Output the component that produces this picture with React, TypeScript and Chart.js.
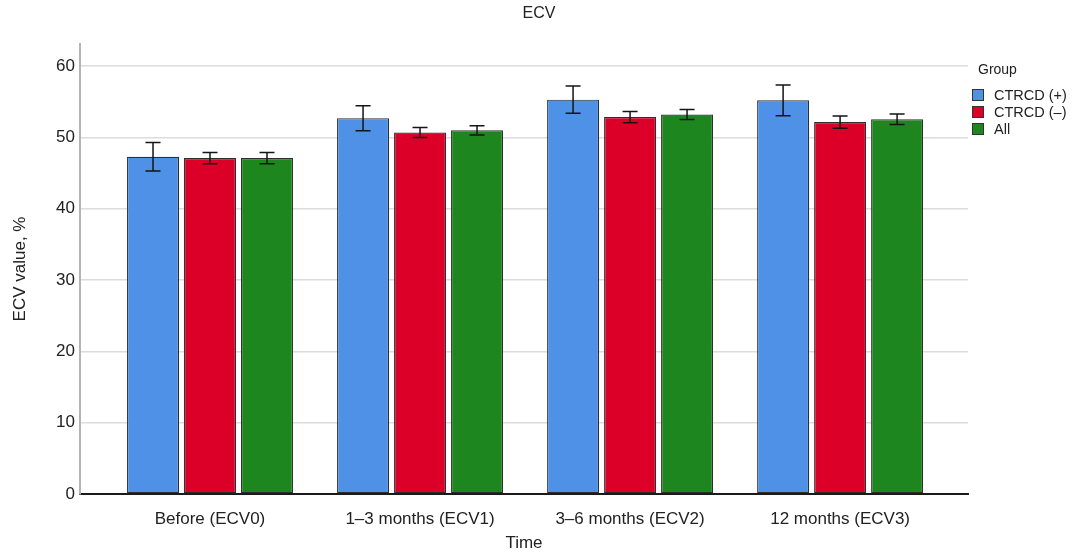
import { useEffect, useRef } from 'react';
import { Chart, registerables } from 'chart.js';

Chart.register(...registerables);

// Time points on the x axis
const CATEGORIES = ['Before (ECV0)', '1–3 months (ECV1)', '3–6 months (ECV2)', '12 months (ECV3)'];

// Group names
const GROUP_LABELS = ['CTRCD (+)', 'CTRCD (–)', 'All'];

// Mean ECV (%) per group at each time point
const CTRCD_POS = [47.3, 52.7, 55.3, 55.2];
const CTRCD_NEG = [47.1, 50.7, 52.85, 52.15];
const ALL = [47.1, 51.0, 53.2, 52.55];

// Half-width of the error bars (%)
const CTRCD_POS_ERR = [2.0, 1.75, 1.9, 2.15];
const CTRCD_NEG_ERR = [0.8, 0.7, 0.8, 0.85];
const ALL_ERR = [0.8, 0.65, 0.7, 0.75];

// Y axis tick values
const Y_TICKS = [0, 10, 20, 30, 40, 50, 60];

const CHART_TITLE = 'ECV';
const LEGEND_TITLE = 'Group';

const COLORS = ['#4e91e6', '#dc0028', '#1e861e'];
const FONT = "'Liberation Sans', Arial, Helvetica, sans-serif";
const TEXT = '#222';

const errorBarsPlugin = {
  id: 'errorBars',
  afterDatasetsDraw(chart: any) {
    const { ctx } = chart;
    const yScale = chart.scales.y;
    ctx.save();
    ctx.strokeStyle = '#151515';
    ctx.lineWidth = 1.5;
    chart.data.datasets.forEach((ds: any, di: number) => {
      const meta = chart.getDatasetMeta(di);
      meta.data.forEach((bar: any, i: number) => {
        const v = ds.data[i].y;
        const e = ds.errors[i];
        const yTop = yScale.getPixelForValue(v + e);
        const yBot = yScale.getPixelForValue(v - e);
        const x = bar.x;
        const cap = 7.5;
        ctx.beginPath();
        ctx.moveTo(x, yTop);
        ctx.lineTo(x, yBot);
        ctx.moveTo(x - cap, yTop);
        ctx.lineTo(x + cap, yTop);
        ctx.moveTo(x - cap, yBot);
        ctx.lineTo(x + cap, yBot);
        ctx.stroke();
      });
    });
    ctx.restore();
  },
};

// Chart title centred on the whole canvas, plus the group legend in the right margin
const headerAndLegendPlugin = {
  id: 'headerAndLegend',
  afterDraw(chart: any) {
    const { ctx, chartArea, width } = chart;
    ctx.save();
    ctx.fillStyle = TEXT;
    ctx.textBaseline = 'middle';
    ctx.textAlign = 'center';
    ctx.font = `16px ${FONT}`;
    ctx.fillText(CHART_TITLE, width / 2 + 2, 14);

    const x0 = chartArea.right + 4;
    ctx.textAlign = 'left';
    ctx.font = `14px ${FONT}`;
    ctx.fillText(LEGEND_TITLE, x0 + 6, 70);
    ctx.font = `14.5px ${FONT}`;
    chart.data.datasets.forEach((ds: any, i: number) => {
      const y = 89 + i * 17;
      ctx.fillStyle = ds.backgroundColor;
      ctx.fillRect(x0, y, 12, 12);
      ctx.strokeStyle = '#333';
      ctx.lineWidth = 1;
      ctx.strokeRect(x0 + 0.5, y + 0.5, 11, 11);
      ctx.fillStyle = TEXT;
      ctx.fillText(ds.label, x0 + 22, y + 6.5);
    });
    ctx.restore();
  },
};

export default function App() {
  const canvasRef = useRef<HTMLCanvasElement | null>(null);

  useEffect(() => {
    if (!canvasRef.current) return;
    Chart.defaults.font.family = FONT;
    const series = [CTRCD_POS, CTRCD_NEG, ALL];
    const errs = [CTRCD_POS_ERR, CTRCD_NEG_ERR, ALL_ERR];
    const chart = new Chart(canvasRef.current, {
      type: 'bar',
      data: {
        datasets: series.map((vals, si) => ({
          label: GROUP_LABELS[si],
          data: vals.map((v, i) => ({ x: i, y: v })),
          errors: errs[si],
          backgroundColor: COLORS[si],
          borderColor: '#2e2e2e',
          borderWidth: 1.2,
          borderSkipped: false,
          categoryPercentage: 0.814,
          barPercentage: 0.912,
        })) as any,
      },
      options: {
        animation: false,
        responsive: false,
        layout: { padding: { left: 0, right: 106, top: 44, bottom: 0 } },
        plugins: {
          legend: { display: false },
          tooltip: { enabled: false },
          title: { display: false },
        },
        scales: {
          x: {
            type: 'linear',
            min: -0.619,
            max: 3.609,
            offset: false,
            grid: { display: false, drawTicks: false },
            border: { display: true, color: '#1a1a1a', width: 2 },
            afterBuildTicks: (s: any) => {
              s.ticks = CATEGORIES.map((_, i) => ({ value: i }));
            },
            afterFit: (s: any) => {
              s.height = 65;
            },
            ticks: {
              autoSkip: false,
              maxRotation: 0,
              padding: 15,
              color: TEXT,
              font: { size: 17 },
              callback: (v: any) => CATEGORIES[v] ?? '',
            },
            title: {
              display: true,
              text: 'Time',
              color: TEXT,
              font: { size: 17 },
              padding: { top: 0, bottom: 5 },
            },
          },
          y: {
            min: 0,
            max: 63.1,
            grid: { color: '#dcdcdc', lineWidth: 1.5, drawTicks: false },
            border: { display: true, color: '#b4b4b4', width: 2 },
            afterBuildTicks: (s: any) => {
              s.ticks = Y_TICKS.map((v) => ({ value: v }));
            },
            afterFit: (s: any) => {
              s.width = 80;
            },
            ticks: {
              padding: 5,
              color: TEXT,
              font: { size: 17 },
            },
            title: {
              display: true,
              text: 'ECV value, %',
              color: TEXT,
              font: { size: 17 },
              padding: { top: 10, bottom: 0 },
            },
          },
        },
      } as any,
      plugins: [errorBarsPlugin, headerAndLegendPlugin],
    });
    return () => chart.destroy();
  }, []);

  return (
    <div style={{ position: 'fixed', left: 0, top: 0, width: 1074, height: 559, background: '#fff' }}>
      <canvas ref={canvasRef} width={1074} height={559} />
    </div>
  );
}
